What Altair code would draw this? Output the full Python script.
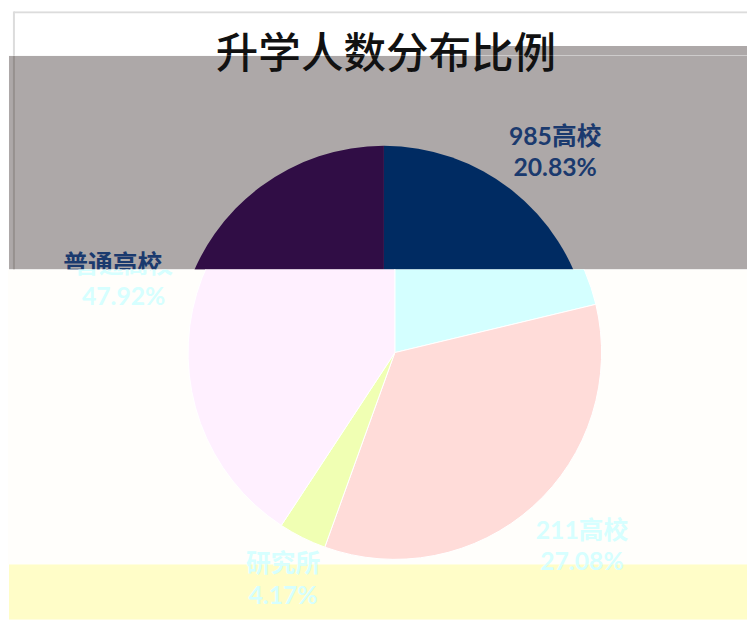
import altair as alt
import pandas as pd

# ---------------- data ----------------
title_text = "升学人数分布比例"
categories = ["985高校", "211高校", "研究所", "普通高校"]
slice_share = [21.25, 34.25, 3.75, 40.75]      # share of the circle each slice covers (%)
pct_labels = ["20.83%", "27.08%", "4.17%", "47.92%"]

# ---------------- styles ----------------
dark_colors = ["#002B62", "#5A1A1A", "#3A4A10", "#300D45"]
light_colors = ["#D4FFFF", "#FFDCD9", "#F0FFB3", "#FFF0FF"]
label_radius = [265, 270, 255, 283]
label_shift = [(9, -10), (9, -21), (1, -14), (-3, -7)]
W = 747
R = 209

df = pd.DataFrame({"cat": categories, "share": slice_share, "pct": pct_labels})
df["end"] = df["share"].cumsum()
df["start"] = df["end"] - df["share"]
df["mid"] = df["end"] - df["share"] / 2
df["label"] = df["cat"] + "\n" + df["pct"]

one = pd.DataFrame({"d": [0]})
title_df = pd.DataFrame({"t": [title_text]})
theta_scale = alt.Scale(domain=[0, 100])

LABEL_FONT = "Lato, Noto Sans CJK SC"


def rect(x1, x2, y1, y2, color):
    return alt.Chart(one).mark_rect(color=color, clip=True).encode(
        x=alt.value(x1), x2=alt.value(x2), y=alt.value(y1), y2=alt.value(y2))


def rule(x1, x2, y1, y2, color, w):
    return alt.Chart(one).mark_rule(color=color, strokeWidth=w, clip=True).encode(
        x=alt.value(x1), x2=alt.value(x2), y=alt.value(y1), y2=alt.value(y2))


def title_layer(y0):
    return alt.Chart(title_df).mark_text(
        font="Noto Sans CJK SC", fontSize=43, fontWeight=500, color="#111111",
        align="center", baseline="middle", clip=True).encode(
        text="t:N", x=alt.value(382), y=alt.value(44 - y0))


def pie_layers(cx, cy, colors, text_color, stroke):
    base = alt.Chart(df)
    arc_kw = dict(outerRadius=R, clip=True)
    if stroke:
        arc_kw.update(stroke="white", strokeWidth=1)
    arcs = base.mark_arc(**arc_kw).encode(
        theta=alt.Theta("start:Q", scale=theta_scale, stack=False),
        theta2="end:Q",
        color=alt.Color("cat:N", scale=alt.Scale(domain=categories, range=colors), legend=None),
        x=alt.value(cx), y=alt.value(cy))
    layers = [arcs]
    for c, r, (ddx, ddy) in zip(categories, label_radius, label_shift):
        layers.append(
            base.transform_filter(alt.datum.cat == c).mark_text(
                radius=r, dx=ddx, dy=ddy, clip=True, font=LABEL_FONT, fontSize=25,
                fontWeight="bold", color=text_color, align="center", baseline="middle",
                lineBreak="\n", lineHeight=32).encode(
                theta=alt.Theta("mid:Q", scale=theta_scale, stack=False),
                text="label:N", x=alt.value(cx), y=alt.value(cy)))
    return layers


# strip 1: white top with frame and title
y0 = 0
h1 = 45
s1 = alt.layer(
    rect(0, W, 0, h1, "#FFFFFF"),
    rect(475, W, 35, h1, "#ADA8A8"),
    rule(6, W, 1, 1, "#DCDCDC", 2),
    rule(6, 6, 0, h1, "#DCDCDC", 2),
    title_layer(y0),
).properties(width=W, height=h1)

# strip 2: gray band, dark rendering
y0 = 45
h2 = 216
s2 = alt.layer(
    rect(1, W, 0, h2, "#ADA8A8"),
    rule(6, 6, 0, h2, "#96918F", 2),
    *pie_layers(380, 345 - y0, dark_colors, "#1B3A6E", False),
    title_layer(y0),
).properties(width=W, height=h2)

# strip 3: white middle, light rendering
y0 = 261
h3 = 298
s3 = alt.layer(
    rect(0, W, 0, h3, "#FFFEFB"),
    *pie_layers(391, 345 - y0, light_colors, "#D6FFFF", True),
).properties(width=W, height=h3)

# strip 4: yellow bottom band
y0 = 559
h4 = 56
s4 = alt.layer(
    rect(1, W, 0, h4, "#FFFDC8"),
    *pie_layers(391, 345 - y0, light_colors, "#D6FFFF", True),
).properties(width=W, height=h4)

chart = alt.vconcat(s1, s2, s3, s4, spacing=0).resolve_scale(
    color="independent").properties(padding=0).configure_view(stroke=None)

chart.save("out.html", embed_options={"renderer": "svg", "actions": False})
